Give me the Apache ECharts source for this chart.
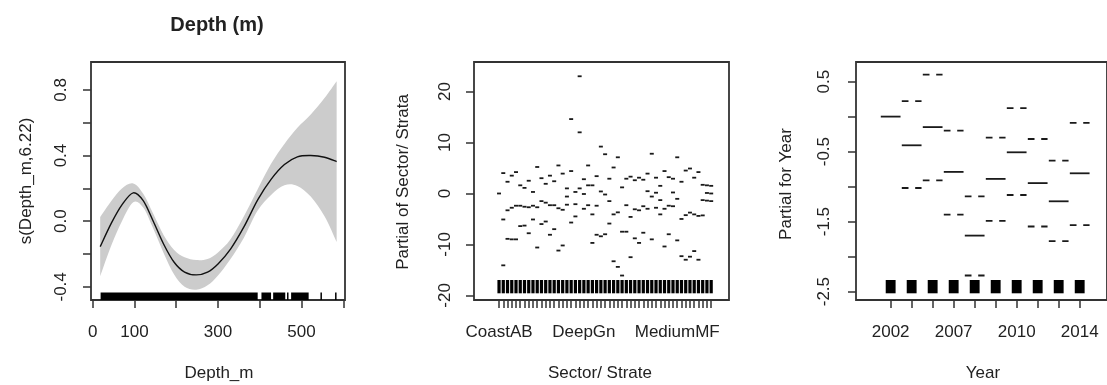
<!DOCTYPE html>
<html>
<head>
<meta charset="utf-8">
<script src="https://cdn.jsdelivr.net/npm/echarts@6/dist/echarts.min.js"></script>
<style>
  html, body { margin: 0; padding: 0; background: #ffffff; }
  #chart { width: 1107px; height: 385px; }
</style>
</head>
<body>
<div id="chart"></div>
<script>
// ---- Panel 1: smooth term for depth ----
const depthX     = [18, 45, 70, 97, 121, 145, 170, 195, 220, 248, 275, 300, 330, 362, 395, 427, 459, 490, 522, 555, 584];
const depthFit   = [-0.155, -0.01, 0.10, 0.173, 0.125, 0.0, -0.14, -0.25, -0.31, -0.327, -0.31, -0.26, -0.17, -0.035, 0.13, 0.255, 0.345, 0.392, 0.40, 0.39, 0.363];
const depthUpper = [0.025, 0.125, 0.20, 0.23, 0.167, 0.045, -0.085, -0.175, -0.22, -0.237, -0.23, -0.19, -0.11, 0.03, 0.195, 0.35, 0.471, 0.569, 0.65, 0.75, 0.853];
const depthLower = [-0.335, -0.145, 0.0, 0.116, 0.083, -0.045, -0.195, -0.325, -0.40, -0.417, -0.39, -0.33, -0.23, -0.10, 0.065, 0.16, 0.219, 0.215, 0.15, 0.03, -0.127];
// observed depths along the bottom (dense runs and isolated values)
const depthRugStart  = [19, 404, 432, 475];
const depthRugEnd    = [395, 427, 461, 517];
const depthRugSingle = [467, 547, 582];
const depthTicks       = [0, 100, 200, 300, 400, 500, 600];
const depthTickLabels  = [0, 100, 300, 500];
const smoothTicks      = [-0.4, -0.2, 0, 0.2, 0.4, 0.6, 0.8];
const smoothTickLabels = [-0.4, 0, 0.4, 0.8];

// ---- Panel 2: sector / strata factor ----
const sectorUpper = [0, 4.0, 2.3, 3.5, 4.2, 1.6, 1.1, 2.5, 0.3, 5.2, 3.0, 1.9, 3.5, 2.4, 5.5, 3.9, 1.0, 14.6, 0.3, 23.0, 2.8, 5.5, 1.6, 3.4, 9.2, 7.7, 2.9, 5.1, 7.1, 1.2, 2.9, 3.3, 2.6, 3.1, 2.7, 3.9, 7.8, 3.1, 1.5, 4.4, 3.2, 2.9, 7.1, 2.3, 4.5, 4.9, 3.1, 4.2, 1.7, 1.6, 1.5];
const sectorEst   = [0, -5.1, -3.3, -2.8, -2.4, -2.4, -2.6, -2.7, -2.4, -2.7, -1.5, -1.8, -2.3, -2.3, -2.9, -3.2, -0.6, 4.4, -2.1, 12.0, -0.1, 1.6, -4.1, -2.4, 0.4, -0.2, -1.5, -4.1, -3.7, -7.5, -2.3, -4.6, -3.1, -3.3, -2.5, 0.45, -0.6, 0.15, -1.3, -3.0, -2.4, 0.2, -1.05, -5.0, -4.25, -3.75, -4.1, -4.4, -1.3, 0.1, 0];
const sectorLower = [0, -14.1, -8.9, -9.0, -9.0, -6.4, -6.3, -7.8, -5.1, -10.6, -6.0, -5.5, -8.1, -7.0, -11.2, -10.2, -2.2, -5.7, -4.5, 1.0, -3.0, -2.3, -9.7, -8.1, -8.4, -8.0, -5.9, -13.3, -14.4, -16.1, -7.5, -12.5, -8.8, -9.7, -7.7, -3.0, -9.0, -2.8, -4.1, -10.4, -8.0, -2.5, -9.2, -12.3, -13.0, -12.4, -11.3, -13.0, -4.3, -1.4, -1.5];
const sectorLabelIdx  = [0, 20, 42];
const sectorLabelText = ['CoastAB', 'DeepGn', 'MediumMF'];
const sectorTicksY    = [-20, -10, 0, 10, 20];

// ---- Panel 3: year factor ----
const years        = ['2002', '2003', '2005', '2007', '2008', '2009', '2010', '2011', '2012', '2014'];
const yearLabelIdx = [0, 3, 6, 9];
const yearUpper    = [0.0, 0.22, 0.60, -0.20, -1.14, -0.30, 0.12, -0.32, -0.63, -0.09];
const yearEst      = [0.0, -0.41, -0.15, -0.79, -1.70, -0.89, -0.51, -0.95, -1.21, -0.81];
const yearLower    = [0.0, -1.02, -0.91, -1.40, -2.27, -1.49, -1.12, -1.57, -1.78, -1.55];
const yearTicksY      = [-2.5, -2, -1.5, -1, -0.5, 0, 0.5];
const yearTickLabelsY = [-2.5, -1.5, -0.5, 0.5];

// ---- shared styling ----
const FONT = "'Liberation Sans', Arial, sans-serif";
const INK = '#222222';
const FRAME = '#333333';

const range = n => Array.from({ length: n }, (_, i) => i);

function axisBase(gridIndex, min, max, ticks, labels, fmt) {
  return {
    type: 'value', gridIndex, min, max,
    axisLine: { show: false, onZero: false },
    splitLine: { show: false },
    axisTick: { show: true, length: 8, lineStyle: { color: FRAME, width: 1.5 }, customValues: ticks },
    axisLabel: { customValues: labels, formatter: fmt, fontSize: 17, color: INK, fontFamily: FONT }
  };
}

// Catmull-Rom spline through pixel points, as SVG path commands
function splineCmds(pts, start) {
  let d = start ? 'M' + pts[0][0] + ',' + pts[0][1] : 'L' + pts[0][0] + ',' + pts[0][1];
  for (let i = 0; i < pts.length - 1; i++) {
    const p0 = pts[i - 1] || pts[i], p1 = pts[i], p2 = pts[i + 1], p3 = pts[i + 2] || pts[i + 1];
    const c1x = p1[0] + (p2[0] - p0[0]) / 6, c1y = p1[1] + (p2[1] - p0[1]) / 6;
    const c2x = p2[0] - (p3[0] - p1[0]) / 6, c2y = p2[1] - (p3[1] - p1[1]) / 6;
    d += ' C' + c1x + ',' + c1y + ' ' + c2x + ',' + c2y + ' ' + p2[0] + ',' + p2[1];
  }
  return d;
}
function bandItem(params, api) {
  const up = depthX.map((x, i) => api.coord([x, depthUpper[i]]));
  const lo = depthX.map((x, i) => api.coord([x, depthLower[i]])).reverse();
  return {
    type: 'path',
    shape: { pathData: splineCmds(up, true) + ' ' + splineCmds(lo, false) + ' Z' },
    style: { fill: '#cccccc', stroke: null }
  };
}
function fitItem(params, api) {
  const pts = depthX.map((x, i) => api.coord([x, depthFit[i]]));
  return {
    type: 'path',
    shape: { pathData: splineCmds(pts, true) },
    style: { fill: null, stroke: '#111111', lineWidth: 1.4 }
  };
}

// estimate as a solid segment, +/- 2 s.e. as dashed segments
function factorMarks(upper, est, lower) {
  const out = [];
  est.forEach((v, i) => {
    out.push([i, v, 0]);
    if (upper[i] !== v) out.push([i, upper[i], 1]);
    if (lower[i] !== v) out.push([i, lower[i], 1]);
  });
  return out;
}
function segmentItem(params, api) {
  const x = api.value(0), y = api.value(1), dashed = api.value(2) === 1;
  const a = api.coord([x - 0.47, y]);
  const b = api.coord([x + 0.47, y]);
  return {
    type: 'line',
    shape: { x1: a[0], y1: a[1], x2: b[0], y2: b[1] },
    style: { stroke: '#1a1a1a', lineWidth: 1.8, lineDash: dashed ? [6.7, 6.7] : null }
  };
}
// rug blocks sitting just above the lower frame
function levelRug(halfWidth) {
  return function (params, api) {
    const x = api.value(0);
    const cs = params.coordSys;
    const bottom = cs.y + cs.height;
    const a = api.coord([x - halfWidth, 0]);
    const b = api.coord([x + halfWidth, 0]);
    return {
      type: 'rect',
      shape: { x: a[0], y: bottom - 20, width: b[0] - a[0], height: 13.3 },
      style: { fill: '#000000' }
    };
  };
}
function spanRug(params, api) {
  const cs = params.coordSys;
  const bottom = cs.y + cs.height;
  const a = api.coord([api.value(0), 0]);
  const b = api.coord([api.value(1), 0]);
  const single = b[0] - a[0] < 1.5;
  return {
    type: 'rect',
    shape: { x: single ? a[0] - 0.75 : a[0], y: bottom - 7.5, width: single ? 1.5 : b[0] - a[0], height: 7.5 },
    style: { fill: '#000000' }
  };
}

const rugSpans = depthRugStart.map((s, i) => [s, depthRugEnd[i]])
  .concat(depthRugSingle.map(v => [v, v]));

const chart = echarts.init(document.getElementById('chart'), null, { renderer: 'canvas' });

const gridStyle = { show: true, borderColor: FRAME, borderWidth: 1.8, backgroundColor: 'transparent' };

const option = {
  animation: false,
  backgroundColor: '#ffffff',
  grid: [
    Object.assign({ left: 91, top: 62, width: 254, height: 238 }, gridStyle),
    Object.assign({ left: 474, top: 62, width: 255, height: 238 }, gridStyle),
    Object.assign({ left: 856, top: 62, width: 254, height: 238 }, gridStyle)
  ],
  xAxis: [
    axisBase(0, -4, 604, depthTicks, depthTickLabels, v => String(v)),
    axisBase(1, -5.9, 54.2, range(sectorEst.length), sectorLabelIdx,
      v => { const k = sectorLabelIdx.indexOf(v); return k >= 0 ? sectorLabelText[k] : ''; }),
    axisBase(2, -1.65, 10.3, range(years.length), yearLabelIdx, v => years[v] || '')
  ],
  yAxis: [
    axisBase(0, -0.48, 0.97, smoothTicks, smoothTickLabels, v => v.toFixed(1)),
    axisBase(1, -20.9, 25.8, sectorTicksY, sectorTicksY, v => String(v)),
    axisBase(2, -2.62, 0.78, yearTicksY, yearTickLabelsY, v => v.toFixed(1))
  ],
  series: [
    // depth smooth: band, fitted curve, rug
    { type: 'custom', xAxisIndex: 0, yAxisIndex: 0, data: [[0]], renderItem: bandItem, z: 3, silent: true },
    { type: 'custom', xAxisIndex: 0, yAxisIndex: 0, data: [[0]], renderItem: fitItem, z: 5, silent: true },
    { type: 'custom', xAxisIndex: 0, yAxisIndex: 0, data: rugSpans, renderItem: spanRug, z: 6 },
    // sector / strata
    {
      type: 'custom', xAxisIndex: 1, yAxisIndex: 1,
      data: factorMarks(sectorUpper, sectorEst, sectorLower), renderItem: segmentItem, z: 5
    },
    {
      type: 'custom', xAxisIndex: 1, yAxisIndex: 1,
      data: range(sectorEst.length).map(i => [i]), renderItem: levelRug(0.38), z: 4
    },
    // year
    {
      type: 'custom', xAxisIndex: 2, yAxisIndex: 2,
      data: factorMarks(yearUpper, yearEst, yearLower), renderItem: segmentItem, z: 5
    },
    {
      type: 'custom', xAxisIndex: 2, yAxisIndex: 2,
      data: range(years.length).map(i => [i]), renderItem: levelRug(0.235), z: 4
    }
  ],
  graphic: [
    { type: 'text', x: 217, y: 25, style: { text: 'Depth (m)', font: 'bold 20px ' + FONT, fill: INK, align: 'center', verticalAlign: 'middle' } },
    { type: 'text', x: 26, y: 181, rotation: Math.PI / 2, style: { text: 's(Depth_m,6.22)', font: '17px ' + FONT, fill: INK, align: 'center', verticalAlign: 'middle' } },
    { type: 'text', x: 219, y: 373, style: { text: 'Depth_m', font: '17px ' + FONT, fill: INK, align: 'center', verticalAlign: 'middle' } },
    { type: 'text', x: 403, y: 182, rotation: Math.PI / 2, style: { text: 'Partial of Sector/ Strata', font: '17px ' + FONT, fill: INK, align: 'center', verticalAlign: 'middle' } },
    { type: 'text', x: 600, y: 373, style: { text: 'Sector/ Strate', font: '17px ' + FONT, fill: INK, align: 'center', verticalAlign: 'middle' } },
    { type: 'text', x: 786, y: 184, rotation: Math.PI / 2, style: { text: 'Partial for Year', font: '17px ' + FONT, fill: INK, align: 'center', verticalAlign: 'middle' } },
    { type: 'text', x: 983, y: 373, style: { text: 'Year', font: '17px ' + FONT, fill: INK, align: 'center', verticalAlign: 'middle' } }
  ]
};

// axis label rotation and spacing
option.xAxis.forEach(ax => { ax.axisLabel.margin = 24; });
option.yAxis.forEach((ax, i) => { ax.axisLabel.rotate = 90; ax.axisLabel.margin = [21, 20, 23][i]; });

chart.setOption(option);
</script>
</body>
</html>
